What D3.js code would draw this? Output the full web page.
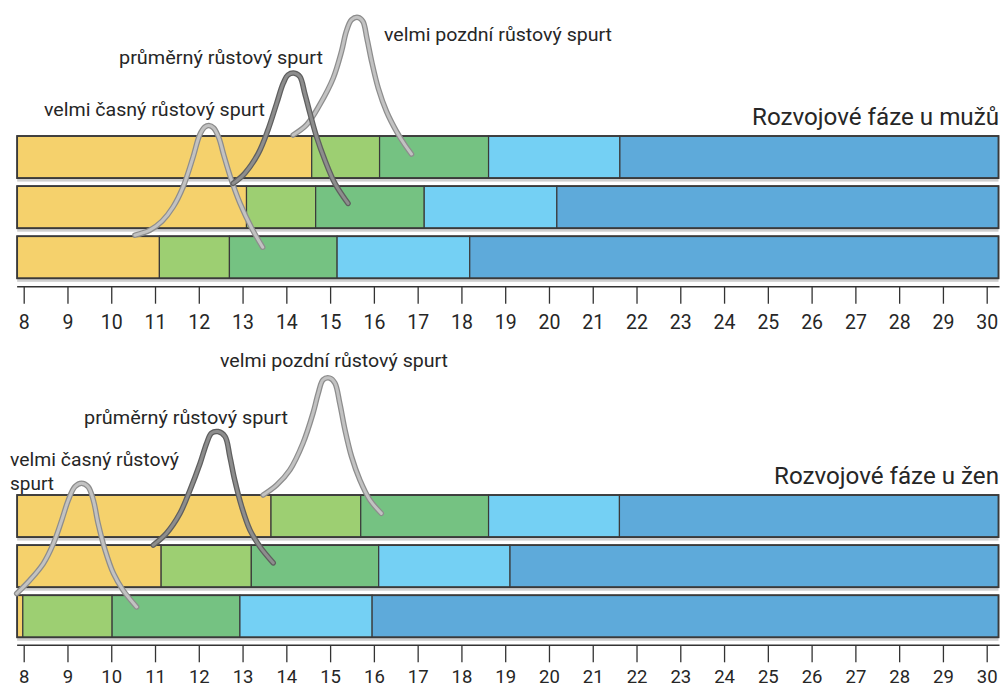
<!DOCTYPE html>
<html>
<head>
<meta charset="utf-8">
<script src="https://cdn.jsdelivr.net/npm/d3@7"></script>
<style>
  html, body { margin: 0; padding: 0; background: #fff; }
  svg { display: block; }
  text { font-family: Roboto, "Open Sans", sans-serif; fill: #262626; }
</style>
</head>
<body>
<svg id="chart" width="1001" height="688"></svg>
<script>
// ---------------- data ----------------
const tickAges = [8,9,10,11,12,13,14,15,16,17,18,19,20,21,22,23,24,25,26,27,28,29,30];
const barStartAge = 7.85;
const barEndAge = 30.27;

// phase boundaries (ages) for each row: end of yellow, light green, green, light blue
const maleBreaks = [
  [14.58, 16.13, 18.62, 21.62],
  [13.09, 14.67, 17.15, 20.18],
  [11.10, 12.70, 15.16, 18.19]
];
const femaleBreaks = [
  [13.65, 15.70, 18.62, 21.61],
  [11.14, 13.20, 16.11, 19.11],
  [7.98, 10.02, 12.94, 15.96]
];

// growth-spurt curves: [age, level] (level in bar-row units above top edge of first bar row)
const maleEarlySpurt = [[10.54,-1.98],[10.88,-1.88],[11.16,-1.70],[11.41,-1.42],[11.64,-1.02],[11.87,-0.42],[12.02,0.02],[12.14,0.18],[12.23,0.21],[12.34,0.16],[12.46,-0.04],[12.57,-0.38],[12.73,-0.84],[12.94,-1.34],[13.21,-1.84],[13.46,-2.22]];
const maleAverageSpurt = [[12.785,-0.946],[13.05,-0.746],[13.36,-0.346],[13.58,0.12],[13.78,0.654],[13.93,1.054],[14.04,1.22],[14.19,1.254],[14.31,1.186],[14.42,0.854],[14.54,0.454],[14.69,-0.014],[14.88,-0.48],[15.11,-0.946],[15.41,-1.346]];
const maleLateSpurt = [[14.155,0.02],[14.46,0.22],[14.76,0.62],[15.07,1.154],[15.26,1.686],[15.37,2.086],[15.49,2.32],[15.64,2.366],[15.75,2.286],[15.84,1.954],[15.95,1.486],[16.10,0.954],[16.29,0.486],[16.52,0.086],[16.71,-0.18],[16.86,-0.36]];
const femaleEarlySpurt = [[7.84,-1.966],[8.14,-1.70],[8.45,-1.366],[8.68,-0.966],[8.87,-0.50],[9.02,-0.10],[9.17,0.166],[9.32,0.234],[9.47,0.166],[9.59,-0.10],[9.70,-0.566],[9.86,-1.10],[10.05,-1.566],[10.27,-1.90],[10.58,-2.234]];
const femaleAverageSpurt = [[10.96,-1.0],[11.26,-0.766],[11.57,-0.366],[11.80,0.10],[12.03,0.634],[12.18,1.034],[12.29,1.234],[12.44,1.266],[12.60,1.166],[12.71,0.766],[12.82,0.30],[12.98,-0.234],[13.17,-0.70],[13.40,-1.034],[13.70,-1.354]];
const femaleLateSpurt = [[13.47,0.0],[13.78,0.2],[14.08,0.5],[14.38,1.034],[14.61,1.634],[14.73,2.034],[14.84,2.30],[14.99,2.334],[15.11,2.234],[15.22,1.834],[15.34,1.30],[15.49,0.766],[15.68,0.30],[15.91,-0.10],[16.17,-0.366]];

const titles = ["Rozvojové fáze u mužů", "Rozvojové fáze u žen"];
const spurtLabels = ["velmi časný růstový spurt", "průměrný růstový spurt", "velmi pozdní růstový spurt"];

// ---------------- styles / layout ----------------
const phaseColors = ["#f5d16c", "#9dcf72", "#75c282", "#74d0f4", "#5eaada"];
const curveStyles = {
  light: { outer: "#8d8d8d", inner: "#c2c2c2" },
  dark:  { outer: "#5f5f5f", inner: "#8d8d8d" }
};

const panels = [
  {
    breaks: maleBreaks, barTop: 136, barBottom: 278.3, axisY: 286.7, tickLabelY: 42, tickSize: 19.5,
    title: { text: titles[0], x: 999, y: 125, w: 247, size: 24 },
    curves: [
      { data: maleLateSpurt, style: "light" },
      { data: maleEarlySpurt, style: "light" },
      { data: maleAverageSpurt, style: "dark" }
    ],
    labels: [
      { lines: [spurtLabels[0]], x: 44, y: 116, w: [221] },
      { lines: [spurtLabels[1]], x: 119, y: 64, w: [204] },
      { lines: [spurtLabels[2]], x: 384, y: 41, w: [228] }
    ]
  },
  {
    breaks: femaleBreaks, barTop: 495, barBottom: 637.3, axisY: 645.3, tickLabelY: 37.5, tickSize: 18.5,
    title: { text: titles[1], x: 999, y: 483.5, w: 225, size: 24 },
    curves: [
      { data: femaleLateSpurt, style: "light" },
      { data: femaleEarlySpurt, style: "light" },
      { data: femaleAverageSpurt, style: "dark" }
    ],
    labels: [
      { lines: ["velmi časný růstový", "spurt"], x: 10, y: 466, w: [169, 44], lh: 23.5 },
      { lines: [spurtLabels[1]], x: 84, y: 424, w: [204] },
      { lines: [spurtLabels[2]], x: 220, y: 366.7, w: [228] }
    ]
  }
];

// ---------------- drawing ----------------
const svg = d3.select("#chart");
const x = d3.scaleLinear().domain([8, 30]).range([23.7, 986.7]);

panels.forEach(p => {
  const g = svg.append("g");
  const y = d3.scaleBand().domain([0, 1, 2]).range([p.barTop, p.barBottom]).paddingInner(0.16).paddingOuter(0);
  const yc = d3.scaleLinear().domain([0, 1]).range([p.barTop, p.barTop - y.step()]);

  // rows
  p.breaks.forEach((br, i) => {
    const edges = [barStartAge, ...br, barEndAge];
    const segs = d3.range(edges.length - 1).map(k => ({ a: edges[k], b: edges[k + 1], c: phaseColors[k] }));
    // shadow
    g.append("rect")
      .attr("x", x(barStartAge)).attr("y", y(i) + 2)
      .attr("width", x(barEndAge) - x(barStartAge)).attr("height", y.bandwidth() + 1.5)
      .attr("fill", "#cfcfcf");
    g.selectAll(null).data(segs).enter().append("rect")
      .attr("x", d => x(d.a)).attr("y", y(i))
      .attr("width", d => x(d.b) - x(d.a)).attr("height", y.bandwidth())
      .attr("fill", d => d.c)
      .attr("stroke", "#3a3a3a").attr("stroke-width", 1.2);
    g.append("rect")
      .attr("x", x(barStartAge)).attr("y", y(i))
      .attr("width", x(barEndAge) - x(barStartAge)).attr("height", y.bandwidth())
      .attr("fill", "none").attr("stroke", "#3a3a3a").attr("stroke-width", 1.8);
  });

  // axis
  const axis = d3.axisBottom(x).tickValues(tickAges).tickSize(17).tickFormat(d3.format("d"));
  const ax = g.append("g").attr("transform", `translate(0,${p.axisY})`).call(axis);
  ax.select(".domain").remove();
  ax.selectAll(".tick line").attr("stroke", "#333").attr("stroke-width", 1.3);
  ax.selectAll(".tick text")
    .attr("y", p.tickLabelY).attr("dy", 0)
    .style("font-family", "Roboto, sans-serif").style("font-size", p.tickSize + "px").attr("fill", "#262626");
  ax.append("line")
    .attr("x1", x(barStartAge)).attr("x2", x(barEndAge) + 1)
    .attr("y1", 0).attr("y2", 0)
    .attr("stroke", "#333").attr("stroke-width", 1.6);

  // curves
  const line = d3.line().x(d => x(d[0])).y(d => yc(d[1])).curve(d3.curveCatmullRom.alpha(0.5));
  p.curves.forEach(c => {
    const st = curveStyles[c.style];
    g.append("path").attr("d", line(c.data))
      .attr("fill", "none").attr("stroke", st.outer).attr("stroke-width", 5.5)
      .attr("stroke-linecap", "round").attr("stroke-linejoin", "round");
    g.append("path").attr("d", line(c.data))
      .attr("fill", "none").attr("stroke", st.inner).attr("stroke-width", 3)
      .attr("stroke-linecap", "round").attr("stroke-linejoin", "round");
  });

  // spurt labels
  p.labels.forEach(l => {
    l.lines.forEach((t, k) => {
      g.append("text")
        .attr("x", l.x).attr("y", l.y + k * (l.lh || 0))
        .attr("textLength", l.w[k]).attr("lengthAdjust", "spacingAndGlyphs")
        .style("font-size", "18px")
        .text(t);
    });
  });

  // title
  g.append("text")
    .attr("x", p.title.x - p.title.w).attr("y", p.title.y)
    .attr("textLength", p.title.w).attr("lengthAdjust", "spacingAndGlyphs")
    .style("font-size", p.title.size + "px")
    .text(p.title.text);
});
</script>
</body>
</html>
